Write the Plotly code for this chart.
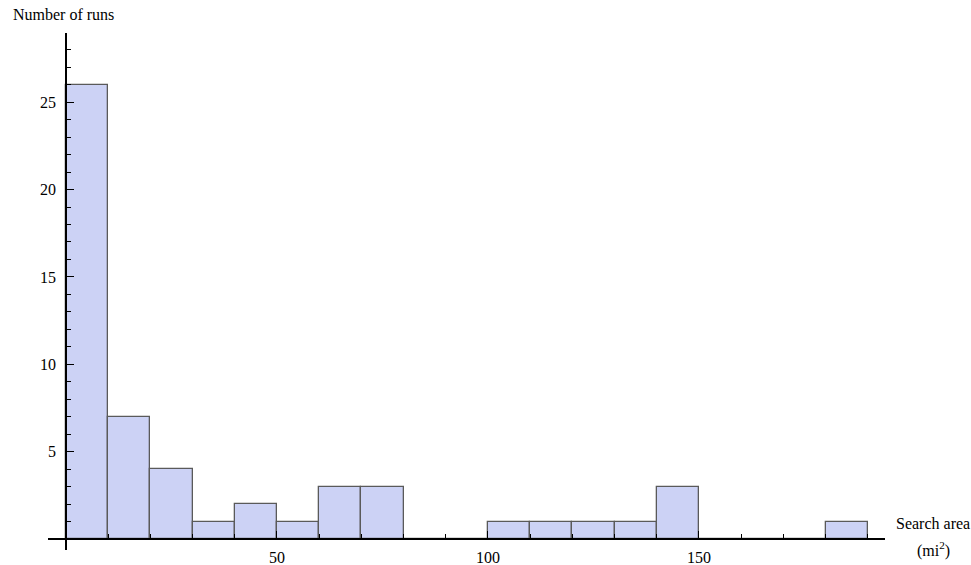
import plotly.graph_objects as go

# Histogram of search area per run, bins 10 mi^2 wide
bin_left = list(range(0, 190, 10))
counts = [26, 7, 4, 1, 2, 1, 3, 3, 0, 0, 1, 1, 1, 1, 3, 0, 0, 0, 1]
bin_width = 10

x_tick_vals = [50, 100, 150]
x_tick_text = ["50", "100", "150"]
x_minor_vals = list(range(0, 200, 10))
y_tick_vals = [5, 10, 15, 20, 25]
y_tick_text = ["5", "10", "15", "20", "25"]
y_minor_vals = list(range(0, 29))

x_range = [-4.27, 194.1]
y_range = [-0.63, 28.96]

W, H = 971, 565
ML, MR, MT, MB = 48, 86, 33, 15
PW, PH = W - ML - MR, H - MT - MB

FONT = "Liberation Serif, Times New Roman, serif"
BAR_FILL = "rgb(204,210,245)"
BAR_EDGE = "rgb(90,90,90)"


def px_to_paper_x(px):
    return (px - ML) / PW


def px_to_paper_y(py):
    return 1 - (py - MT) / PH


fig = go.Figure()
fig.add_trace(go.Bar(
    x=bin_left,
    y=counts,
    width=bin_width,
    offset=0,
    marker=dict(color=BAR_FILL, line=dict(color=BAR_EDGE, width=1.3)),
    hoverinfo="skip",
))

# axes cross at the origin, Mathematica style
x_at_zero = (0 - x_range[0]) / (x_range[1] - x_range[0])
y_at_zero = (0 - y_range[0]) / (y_range[1] - y_range[0])

fig.update_layout(
    width=W, height=H,
    margin=dict(l=ML, r=MR, t=MT, b=MB, pad=0, autoexpand=False),
    paper_bgcolor="white", plot_bgcolor="white",
    showlegend=False,
    bargap=0,
    font=dict(family=FONT, size=16, color="black"),
    xaxis=dict(
        range=x_range, domain=[0, 1],
        anchor="free", position=y_at_zero, automargin=False,
        showgrid=False, zeroline=False,
        showline=True, linecolor="black", linewidth=1.5,
        tickmode="array", tickvals=x_tick_vals, ticktext=x_tick_text,
        ticks="inside", ticklen=7, tickwidth=1.3, tickcolor="black",
        minor=dict(tickmode="array", tickvals=x_minor_vals, ticks="inside",
                   ticklen=4, tickwidth=1.3, tickcolor="black", showgrid=False),
        tickfont=dict(family=FONT, size=16),
        ticklabelstandoff=4,
    ),
    yaxis=dict(
        range=y_range, domain=[0, 1],
        anchor="free", position=x_at_zero, automargin=False,
        showgrid=False, zeroline=False,
        showline=True, linecolor="black", linewidth=1.5,
        tickmode="array", tickvals=y_tick_vals, ticktext=y_tick_text,
        ticks="inside", ticklen=7, tickwidth=1.3, tickcolor="black",
        minor=dict(tickmode="array", tickvals=y_minor_vals, ticks="inside",
                   ticklen=4, tickwidth=1.3, tickcolor="black", showgrid=False),
        tickfont=dict(family=FONT, size=16),
        ticklabelstandoff=6,
    ),
    annotations=[
        dict(text="Number of runs", xref="paper", yref="paper",
             x=px_to_paper_x(11), y=px_to_paper_y(15),
             xanchor="left", yanchor="middle", showarrow=False,
             font=dict(family=FONT, size=16)),
        dict(text="Search area", xref="paper", yref="paper",
             x=px_to_paper_x(933), y=px_to_paper_y(523),
             xanchor="center", yanchor="middle", showarrow=False,
             font=dict(family=FONT, size=16)),
        dict(text="(mi<sup>2</sup>)", xref="paper", yref="paper",
             x=px_to_paper_x(933), y=px_to_paper_y(549),
             xanchor="center", yanchor="middle", showarrow=False,
             font=dict(family=FONT, size=16)),
    ],
)

fig.write_html("out.html")
